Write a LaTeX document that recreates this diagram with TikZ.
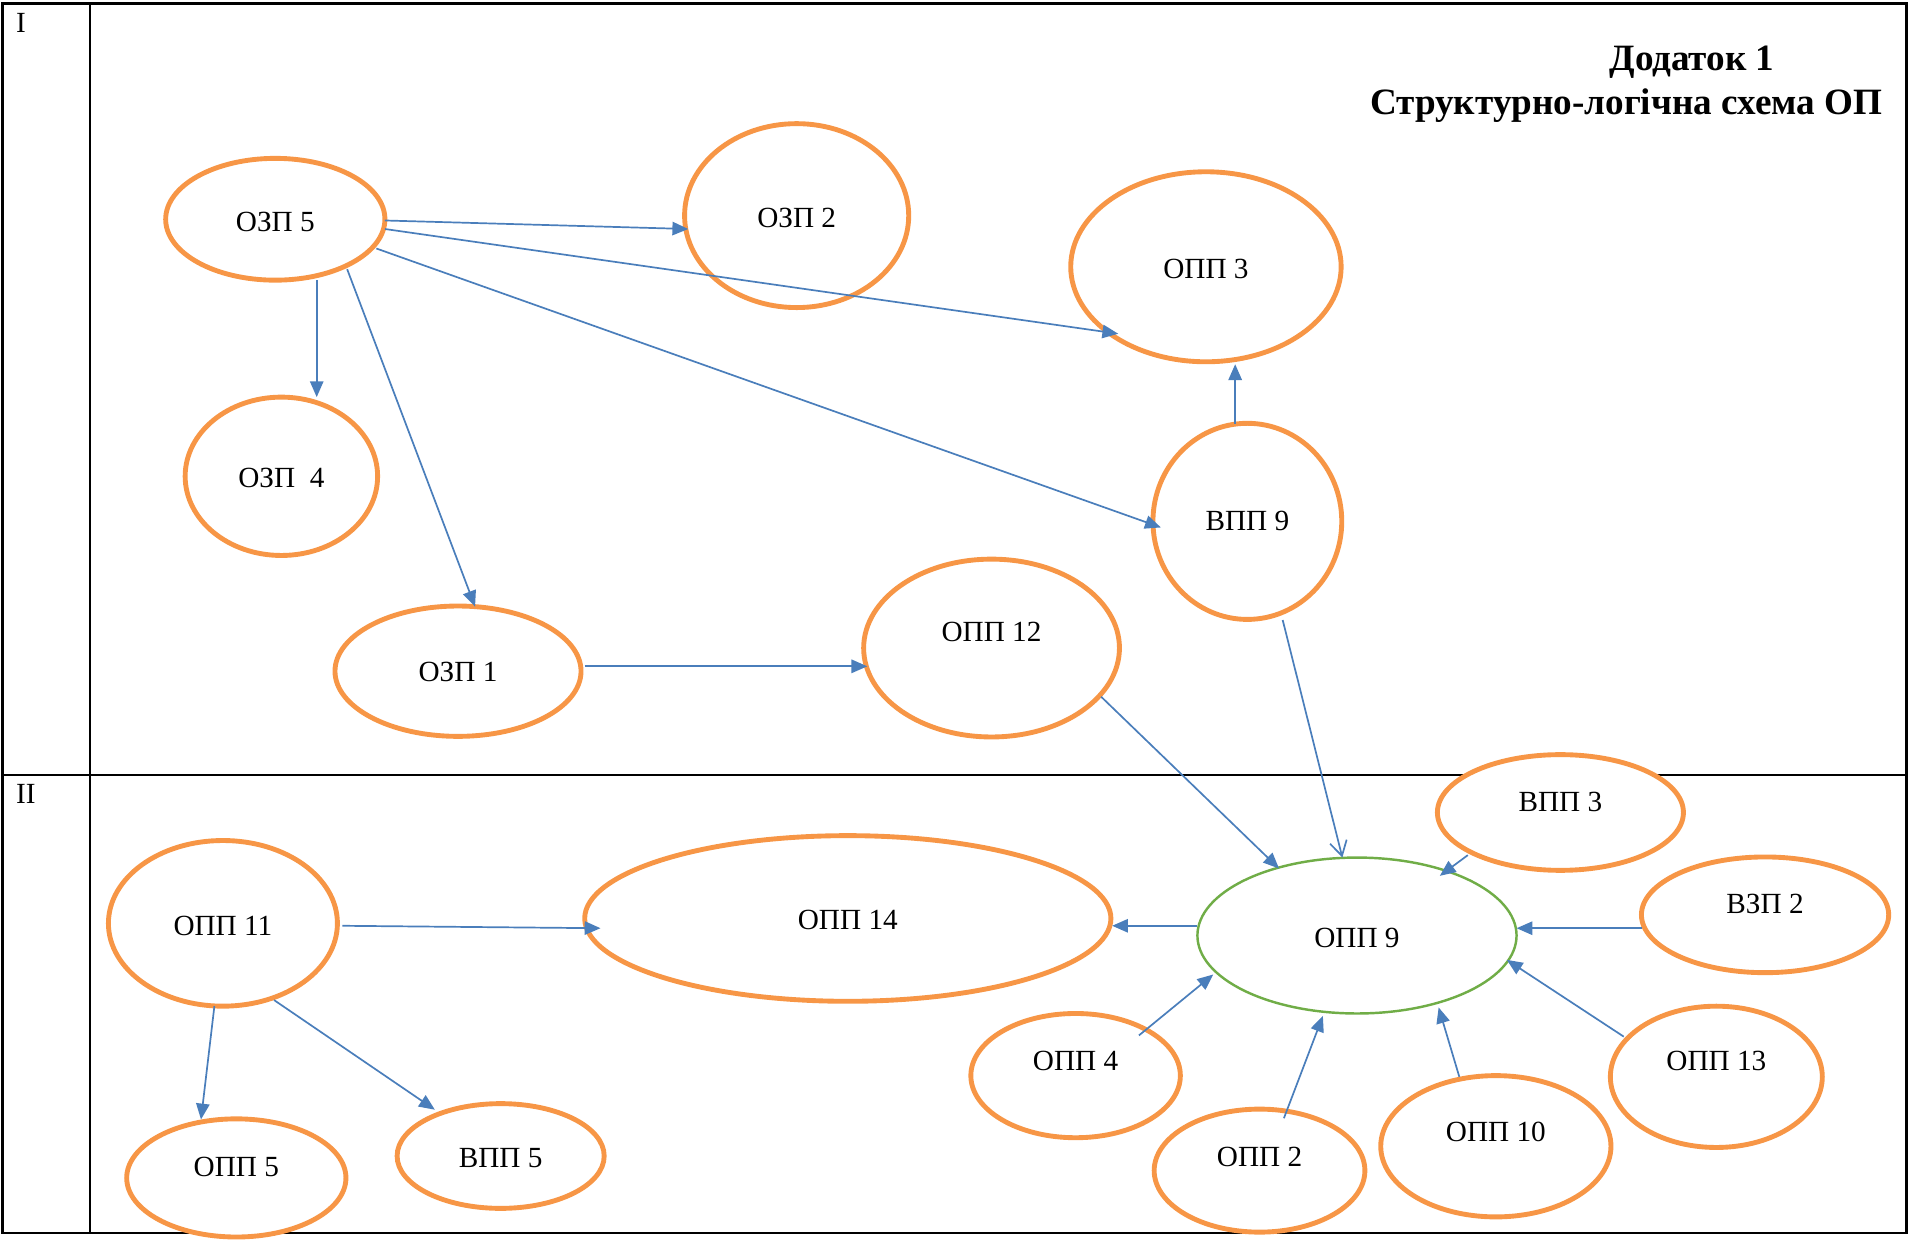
\documentclass[tikz,border=0pt]{standalone}
\usepackage{fontspec}
\setmainfont{Liberation Serif}
\usetikzlibrary{shapes.geometric,arrows.meta,calc}
\definecolor{orng}{HTML}{F79646}
\definecolor{arblue}{HTML}{4A7EBB}
\definecolor{grn}{HTML}{70AD47}
\begin{document}
\begin{tikzpicture}[x=1pt,y=-1pt,
  ov/.style={ellipse,draw=orng,line width=4pt,fill=white,inner sep=0pt,outer sep=0pt},
  gov/.style={ellipse,draw=grn,line width=2pt,fill=white,inner sep=0pt,outer sep=0pt},
  lbl/.style={font=\fontsize{24}{28}\selectfont,inner sep=0pt},
  arr/.style={draw=arblue,line width=1.4pt,-{Triangle[length=13pt,width=11pt]}},
  oarr/.style={draw=arblue,line width=1.4pt,-{Straight Barb[length=12pt,width=14pt,line width=1.4pt]}},
  tbl/.style={line width=2pt,draw=black},
  ttl/.style={font=\fontsize{30.5}{34}\selectfont\bfseries,inner sep=0pt}]
\useasboundingbox (0,0) rectangle (1568,1018);
% table
\draw[tbl] (2,3) rectangle (1565,1012);
\draw[tbl] (74,3) -- (74,1012);
\draw[tbl] (2,636) -- (1565,636);
\node[lbl,anchor=west] (r1) at (13,19) {I};
\node[lbl,anchor=west] (r2) at (13,652) {II};
% title
\node[ttl] (t1) at (1389,51) {Додаток 1};
\node[ttl] (t2) at (1335,87) {Структурно-логічна схема ОП};
% nodes
\node[ov,minimum width=180,minimum height=100,label={[lbl,yshift=-2]center:ОЗП 5}] (ozp5) at (226,180) {};
\node[ov,minimum width=184,minimum height=151,label={[lbl,yshift=-2]center:ОЗП 2}] (ozp2) at (654,177) {};
\node[ov,minimum width=222,minimum height=156,label={[lbl,yshift=-2]center:ОПП 3}] (opp3) at (990,219) {};
\node[ov,minimum width=158,minimum height=130,label={[lbl,yshift=-1]center:ОЗП\ \ 4}] (ozp4) at (231,391) {};
\node[ov,minimum width=155,minimum height=161,label={[lbl,yshift=0]center:ВПП 9}] (vpp9) at (1024,428) {};
\node[ov,minimum width=202,minimum height=107,label={[lbl,yshift=-1]center:ОЗП 1}] (ozp1) at (376,551) {};
\node[ov,minimum width=210,minimum height=146,label={[lbl,yshift=13]center:ОПП 12}] (opp12) at (814,532) {};
\node[ov,minimum width=188,minimum height=136,label={[lbl,yshift=-2]center:ОПП 11}] (opp11) at (183,758) {};
\node[ov,minimum width=432,minimum height=136,label={[lbl,yshift=-1]center:ОПП 14}] (opp14) at (696,754) {};
\node[gov,minimum width=262,minimum height=128,label={[lbl,yshift=-2]center:ОПП 9}] (opp9) at (1114,768) {};
\node[ov,minimum width=202,minimum height=95,label={[lbl,yshift=9]center:ВПП 3}] (vpp3) at (1281,667) {};
\node[ov,minimum width=203,minimum height=95,label={[lbl,yshift=9]center:ВЗП 2}] (vzp2) at (1449,751) {};
\node[ov,minimum width=172,minimum height=102,label={[lbl,yshift=12]center:ОПП 4}] (opp4) at (883,883) {};
\node[ov,minimum width=173,minimum height=101,label={[lbl,yshift=11]center:ОПП 2}] (opp2) at (1034,961) {};
\node[ov,minimum width=189,minimum height=116,label={[lbl,yshift=12]center:ОПП 10}] (opp10) at (1228,941) {};
\node[ov,minimum width=174,minimum height=116,label={[lbl,yshift=13]center:ОПП 13}] (opp13) at (1409,884) {};
\node[ov,minimum width=180,minimum height=97,label={[lbl,yshift=9]center:ОПП 5}] (opp5) at (194,967) {};
\node[ov,minimum width=170,minimum height=86,label={[lbl,yshift=-2]center:ВПП 5}] (vpp5) at (411,949) {};
% connectors
\draw[arr] ($(ozp5)+(90,1)$) -- ($(ozp2)+(-89,11)$);
\draw[arr] ($(ozp5)+(90,8)$) -- ($(opp3)+(-72,55)$);
\draw[arr] ($(ozp5)+(83,24)$) -- ($(vpp9)+(-71,5)$);
\draw[arr] ($(ozp5)+(34,50)$) -- ($(ozp4)+(29,-65)$);
\draw[arr] ($(ozp5)+(59,41)$) -- ($(ozp1)+(14,-53)$);
\draw[arr] ($(vpp9)+(-10,-80)$) -- ($(opp3)+(24,80)$);
\draw[arr] ($(ozp1)+(104,-4)$) -- ($(opp12)+(-102,15)$);
\draw[arr] ($(opp12)+(90,40)$) -- ($(opp9)+(-64,-55)$);
\draw[oarr] ($(vpp9)+(29,81)$) -- ($(opp9)+(-12,-64)$);
\draw[arr] ($(vpp3)+(-76,35)$) -- ($(opp9)+(68,-49)$);
\draw[arr] ($(vzp2)+(-101,11)$) -- ($(opp9)+(131,-6)$);
\draw[arr] ($(opp13)+(-76,-33)$) -- ($(opp9)+(123,20)$);
\draw[arr] ($(opp10)+(-30,-57)$) -- ($(opp9)+(67,59)$);
\draw[arr] ($(opp2)+(20,-43)$) -- ($(opp9)+(-28,66)$);
\draw[arr] ($(opp4)+(52,-33)$) -- ($(opp9)+(-118,32)$);
\draw[arr] ($(opp9)+(-131,-8)$) -- ($(opp14)+(217,6)$);
\draw[arr] ($(opp11)+(98,2)$) -- ($(opp14)+(-203,8)$);
\draw[arr] ($(opp11)+(-7,68)$) -- ($(opp5)+(-29,-48)$);
\draw[arr] ($(opp11)+(42,63)$) -- ($(vpp5)+(-54,-38)$);
\end{tikzpicture}
\end{document}
